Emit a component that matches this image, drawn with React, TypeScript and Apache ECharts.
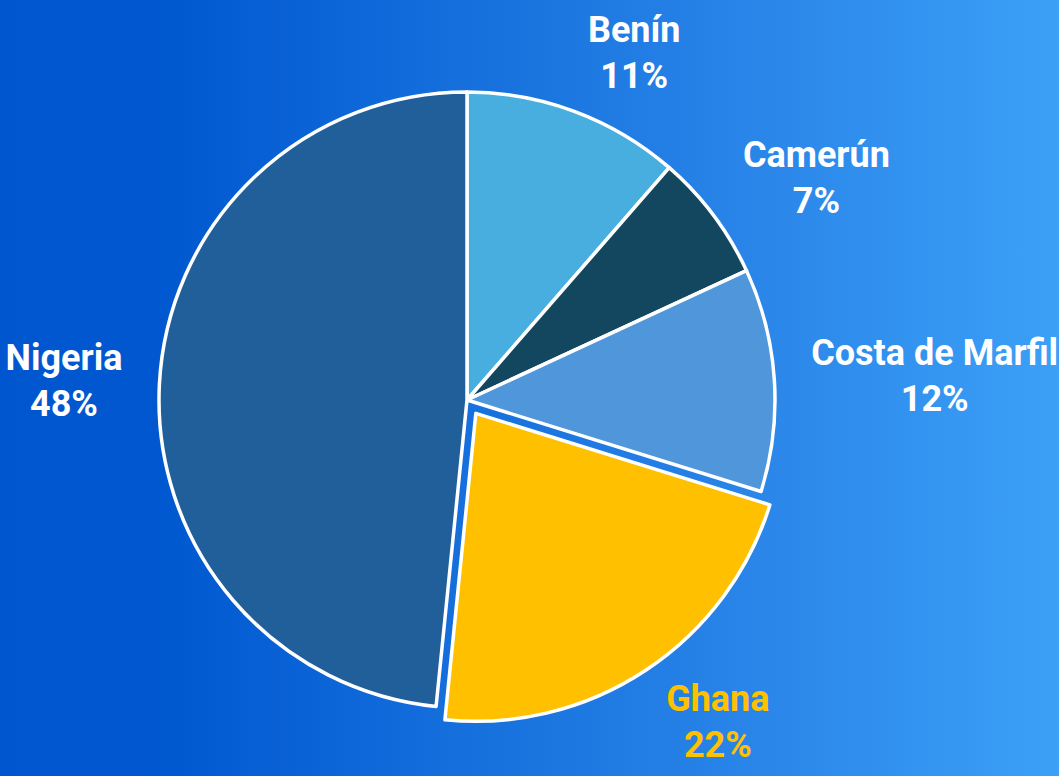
import React, { useEffect, useRef } from "react";
import * as echarts from "echarts";

const categories = ["Benín", "Camerún", "Costa de Marfil", "Ghana", "Nigeria"];
const values = [11.4, 6.7, 11.7, 21.8, 48.4];
const sliceColors = ["#47aedf", "#134760", "#5096db", "#ffc000", "#215f9a"];
const labelColors = ["#ffffff", "#ffffff", "#ffffff", "#ffc000", "#ffffff"];
const explodedIndex = 3;

const CX = 467;
const CY = 400;
const RADIUS = 308;
const EXPLODE = 16;
const LABEL_R = 345;
const LABEL_HALF_H = 25;
const BORDER = 3.5;

export default function App() {
  const ref = useRef<HTMLDivElement>(null);
  useEffect(() => {
    if (!ref.current) return;
    const chart = echarts.init(ref.current, undefined, { renderer: "svg" });
    const total = values.reduce((a, b) => a + b, 0);
    const cum: number[] = [];
    let acc = 0;
    values.forEach((v) => {
      cum.push(acc);
      acc += v;
    });
    const midDir = (i: number) => {
      const mid = ((cum[i] + values[i] / 2) / total) * Math.PI * 2;
      return [Math.sin(mid), -Math.cos(mid)];
    };
    const [ex, ey] = midDir(explodedIndex);
    const hidden = { color: "transparent", borderWidth: 0 };

    const mainData = categories.map((name, i) => ({
      name,
      value: values[i],
      itemStyle:
        i === explodedIndex
          ? hidden
          : { color: sliceColors[i], borderColor: "#ffffff", borderWidth: BORDER },
      label: { color: labelColors[i] },
    }));
    const explodedData = categories.map((name, i) => ({
      name,
      value: values[i],
      itemStyle:
        i === explodedIndex
          ? { color: sliceColors[i], borderColor: "#ffffff", borderWidth: BORDER }
          : hidden,
    }));

    chart.setOption({
      animation: false,
      backgroundColor: "transparent",
      series: [
        {
          type: "pie",
          center: [CX, CY],
          radius: RADIUS,
          startAngle: 90,
          clockwise: true,
          silent: true,
          avoidLabelOverlap: false,
          emphasis: { disabled: true },
          label: {
            show: true,
            position: "outside",
            formatter: (p: any) => `${p.name}\n${Math.round(p.percent)}%`,
            fontFamily: "Roboto",
            fontWeight: "bold",
            fontSize: 36,
            lineHeight: 46,
          },
          labelLine: { show: false },
          labelLayout: (p: any) => {
            const i = p.dataIndex;
            const [ux, uy] = midDir(i);
            const off = i === explodedIndex ? EXPLODE : 0;
            const r = LABEL_R + off;
            const x = CX + ux * r + Math.sign(ux) * (p.labelRect.width / 2);
            const y = CY + uy * r + uy * LABEL_HALF_H;
            return { x, y, align: "center", verticalAlign: "middle" };
          },
          data: mainData,
          z: 2,
        },
        {
          type: "pie",
          center: [CX + ex * EXPLODE, CY + ey * EXPLODE],
          radius: RADIUS,
          startAngle: 90,
          clockwise: true,
          silent: true,
          emphasis: { disabled: true },
          label: { show: false },
          labelLine: { show: false },
          data: explodedData,
          z: 1,
        },
      ],
    });
    return () => chart.dispose();
  }, []);
  return (
    <div
      ref={ref}
      style={{
        position: "absolute",
        left: 0,
        top: 0,
        width: 1059,
        height: 776,
        background:
          "linear-gradient(to right, #0056ce 0%, #0058d0 15%, #2a86e9 72%, #3ca0f7 100%)",
      }}
    />
  );
}
